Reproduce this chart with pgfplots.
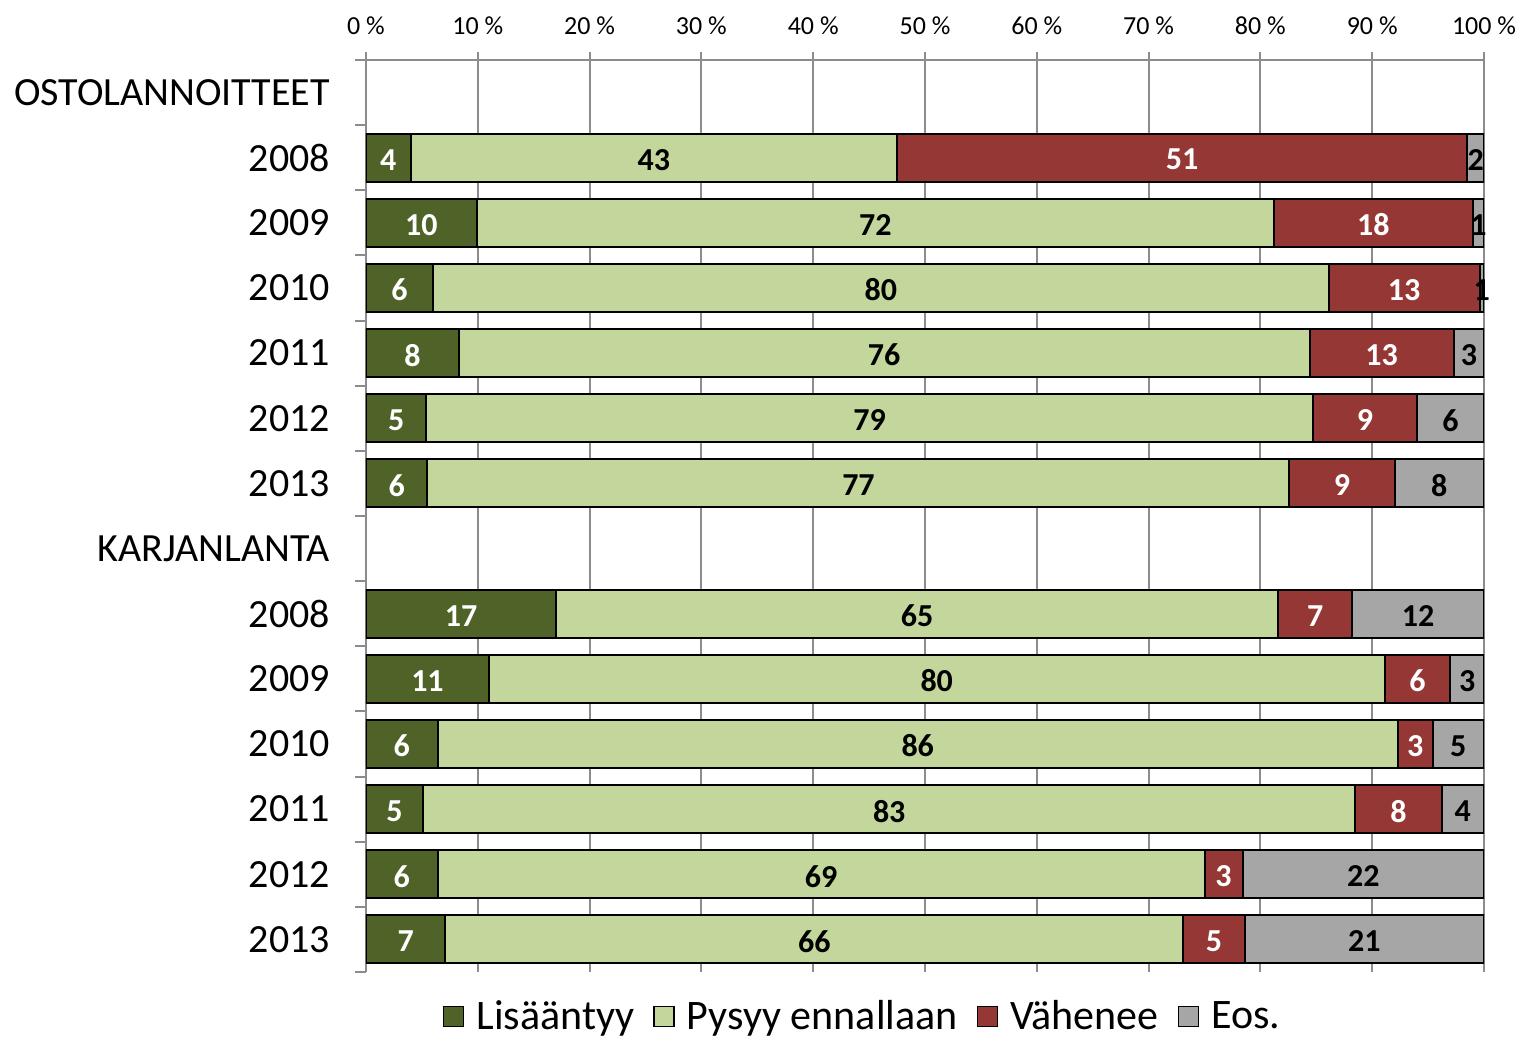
\documentclass[border=0pt]{standalone}
\usepackage{fontspec}
\setmainfont{Carlito}
\usepackage{pgfplots}
\usepackage{pgfplotstable}
\pgfplotsset{compat=1.18}

\definecolor{cLis}{HTML}{4F6228}
\definecolor{cPys}{HTML}{C3D69B}
\definecolor{cVah}{HTML}{953735}
\definecolor{cEos}{HTML}{A6A6A6}
\definecolor{cAx}{HTML}{8C8C8C}

% shares of answers (%), rows from bottom (0) to top (13)
\pgfplotstableread{
y  a     b     c     d     la lb lc ld
12 4.0   43.5  51.0  1.5   4  43 51 2
11 9.9   71.3  17.8  1.0   10 72 18 1
10 6.0   80.1  13.5  0.4   6  80 13 1
9  8.3   76.1  12.9  2.7   8  76 13 3
8  5.4   79.3  9.3   6.0   5  79 9  6
7  5.5   77.1  9.4   8.0   6  77 9  8
5  17.0  64.6  6.6   11.8  17 65 7  12
4  11.0  80.1  5.9   3.0   11 80 6  3
3  6.4   85.9  3.1   4.6   6  86 3  5
2  5.1   83.4  7.7   3.8   5  83 8  4
1  6.4   68.6  3.4   21.6  6  69 3  22
0  7.1   66.0  5.5   21.4  7  66 5  21
}\data

\pgfplotsset{base/.style={
  scale only axis, width=559pt, height=456pt,
  xmin=0, xmax=100, ymin=-0.5, ymax=13.5,
}}

\begin{document}
\begin{tikzpicture}
\begin{axis}[base, name=ax,
  xbar stacked, bar width=24pt,
  axis x line*=top, axis y line*=left,
  axis line style={cAx, line width=1pt},
  xtick={0,10,...,100},
  xticklabels={0 \%,10 \%,20 \%,30 \%,40 \%,50 \%,60 \%,70 \%,80 \%,90 \%,100 \%},
  xticklabel style={font=\fontsize{13}{15}\selectfont, yshift=5pt},
  xmajorgrids, grid style={cAx, line width=1pt},
  tick align=outside,
  major tick length=4pt, minor tick length=5.5pt,
  x tick style={cAx, line width=1pt},
  major y tick style={draw=none},
  minor y tick style={cAx, line width=1pt},
  ytick={0,...,13},
  yticklabels={2013,2012,2011,2010,2009,2008,KARJANLANTA,2013,2012,2011,2010,2009,2008,OSTOLANNOITTEET},
  minor ytick={-0.5,0.5,...,13.5},
  yticklabel style={font=\fontsize{20}{24}\selectfont, xshift=-10.5pt},
  legend columns=4,
  legend style={at={(0.445,0)}, anchor=north, yshift=-10pt, draw=none,
    font=\fontsize{21}{24}\selectfont,
    /tikz/every even column/.append style={column sep=7.5pt},
    /tikz/every odd column/.append style={column sep=4pt}},
  legend image code/.code={\draw[#1, draw=black, line width=0.8pt] (0pt,-5pt) rectangle (10pt,5pt);},
]
\addplot[fill=cLis, draw=black, line width=1pt] table[x=a, y=y]{\data};
\addlegendentry{Lisääntyy}
\addplot[fill=cPys, draw=black, line width=1pt] table[x=b, y=y]{\data};
\addlegendentry{Pysyy ennallaan}
\addplot[fill=cVah, draw=black, line width=1pt] table[x=c, y=y]{\data};
\addlegendentry{Vähenee}
\addplot[fill=cEos, draw=black, line width=1pt] table[x=d, y=y]{\data};
\addlegendentry{Eos.}
\end{axis}

\begin{axis}[base, hide axis,
  nodes near coords, point meta=explicit symbolic,
  nodes near coords style={anchor=center, yshift=-1pt, font=\fontsize{16}{18}\bfseries\selectfont},
]
\addplot[only marks, mark=*, mark size=0pt, mark options={draw=none, fill=none},
  nodes near coords style={text=white}]
  table[x expr=\thisrow{a}/2, y=y, meta=la]{\data};
\addplot[only marks, mark=*, mark size=0pt, mark options={draw=none, fill=none},
  nodes near coords style={text=black}]
  table[x expr=\thisrow{a}+\thisrow{b}/2, y=y, meta=lb]{\data};
\addplot[only marks, mark=*, mark size=0pt, mark options={draw=none, fill=none},
  nodes near coords style={text=white}]
  table[x expr=\thisrow{a}+\thisrow{b}+\thisrow{c}/2, y=y, meta=lc]{\data};
\addplot[only marks, mark=*, mark size=0pt, mark options={draw=none, fill=none},
  nodes near coords style={text=black}]
  table[x expr=\thisrow{a}+\thisrow{b}+\thisrow{c}+\thisrow{d}/2, y=y, meta=ld]{\data};
\end{axis}

\pgfresetboundingbox
\path[use as bounding box] ([shift={(-183pt,-33.5pt)}]ax.south west) rectangle ([shift={(19pt,30pt)}]ax.north east);
\end{tikzpicture}
\end{document}
